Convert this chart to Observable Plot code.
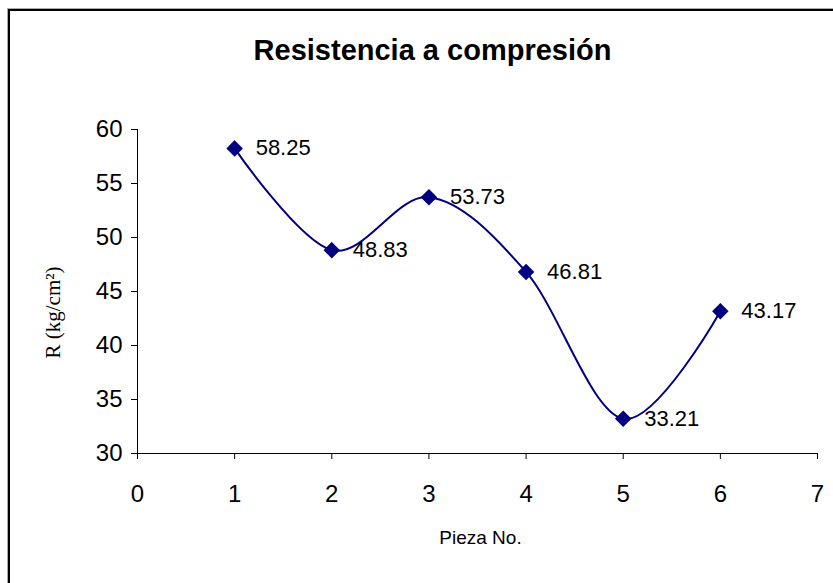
<!DOCTYPE html>
<html>
<head>
<meta charset="utf-8">
<script src="https://cdn.jsdelivr.net/npm/d3@7"></script>
<script src="https://cdn.jsdelivr.net/npm/@observablehq/plot@0.6"></script>
<style>
  html, body { margin: 0; padding: 0; background: #fff; }
  #chart { position: relative; width: 833px; height: 583px; overflow: hidden; }
  #frame { position: absolute; left: 8px; top: 9px; width: 900px; height: 700px;
           border-left: 2px solid #000; border-top: 2px solid #000; box-shadow: -1px -1px 0 #aaa; }
  #chart svg { position: absolute; left: 0; top: 0; }
</style>
</head>
<body>
<div id="chart"><div id="frame"></div></div>
<script>
// Compressive strength per specimen
const piezas = [1, 2, 3, 4, 5, 6];
const resistencia = [58.25, 48.83, 53.73, 46.81, 33.21, 43.17];
const xTicks = [0, 1, 2, 3, 4, 5, 6, 7];
const yTicks = [30, 35, 40, 45, 50, 55, 60];
const titulo = "Resistencia a compresión";
const ejeX = "Pieza No.";
const ejeY = "R (kg/cm²)";

const data = piezas.map((p, i) => ({pieza: p, r: resistencia[i]}));
const navy = "#000080";
const sans = "Arial, 'Liberation Sans', sans-serif";
const serif = "'Liberation Serif', 'Times New Roman', serif";

const chart = Plot.plot({
  width: 833,
  height: 583,
  marginLeft: 137,
  marginRight: 16,
  marginTop: 129,
  marginBottom: 130,
  style: {fontFamily: sans, background: "transparent"},
  x: {domain: [0, 7]},
  y: {domain: [30, 60]},
  marks: [
    Plot.axisX({ticks: xTicks, tickSize: 6, tickPadding: 25, fontSize: 24, label: null,
      tickFormat: d => d, style: "letter-spacing:-1px"}),
    Plot.axisY({ticks: yTicks, tickSize: 6, tickPadding: 9, fontSize: 24, label: null,
      tickFormat: d => d, style: "letter-spacing:-2px"}),
    Plot.ruleY([30], {stroke: "#000"}),
    Plot.ruleX([0], {stroke: "#000"}),
    Plot.line(data, {x: "pieza", y: "r", curve: "cardinal", stroke: navy, strokeWidth: 2}),
    Plot.dot(data, {x: "pieza", y: "r", symbol: "diamond2", r: 6.5, fill: navy, stroke: navy}),
    Plot.text(data, {x: "pieza", y: "r", text: d => d.r.toFixed(2), dx: 21, textAnchor: "start",
      fontSize: 22, fill: "#000", style: "letter-spacing:-1.8px"}),
    Plot.text([titulo], {frameAnchor: "top-left", dx: 295, dy: -90, textAnchor: "middle",
      fontSize: 29, fontWeight: "bold", fill: "#000", style: "letter-spacing:-0.6px"}),
    Plot.text([ejeX], {frameAnchor: "bottom-left", dx: 343, dy: 90, textAnchor: "middle",
      fontSize: 19, fill: "#000", style: "letter-spacing:-1.2px"}),
    Plot.text([ejeY], {frameAnchor: "top-left", dx: -92, dy: 183, rotate: -90, textAnchor: "middle",
      fontSize: 21, fill: "#000", fontFamily: serif})
  ]
});
document.getElementById("chart").appendChild(chart);
</script>
</body>
</html>
